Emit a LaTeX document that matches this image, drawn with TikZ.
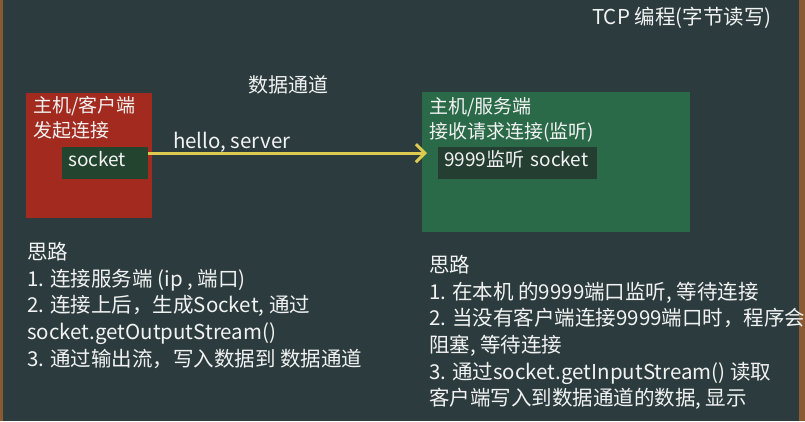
\documentclass[tikz,border=0pt]{standalone}
\usepackage{fontspec}
\setmainfont{Noto Sans CJK SC}
\usetikzlibrary{arrows.meta,positioning}

\definecolor{board}{HTML}{2C3C3E}
\definecolor{frame}{HTML}{8A5A32}
\definecolor{clientred}{HTML}{A22A1E}
\definecolor{servergreen}{HTML}{2B6A48}
\definecolor{sockgreen}{HTML}{23452F}
\definecolor{listengreen}{HTML}{243F31}
\definecolor{chalk}{HTML}{F2F2F2}
\definecolor{wire}{HTML}{DCCB4E}

\tikzset{
  every node/.style={text=chalk,inner sep=0pt},
  txt/.style={font=\fontsize{20.5}{26.7}\selectfont,align=left},
  hostbox/.style={minimum width=#1,anchor=north west},
  sockbox/.style={minimum height=32pt,anchor=north west,align=left,
    inner xsep=6pt,text height=13pt,text depth=6pt,
    font=\fontsize{19}{22}\selectfont},
}

\begin{document}
\begin{tikzpicture}[x=1pt,y=-1pt]
		% board
		\fill[board] (0,0) rectangle (805,421);
		\useasboundingbox (0,0) rectangle (805,421);
		\fill[frame] (0,0) rectangle (3,421);
		\fill[frame] (799,0) rectangle (805,421);

		\node[txt,anchor=west] (title) at (592,18) {TCP 编程(字节读写)};
		\node[txt,font=\fontsize{20}{24}\selectfont] (chan) at (288,85) {数据通道};

		% client
		\node[hostbox=126pt,minimum height=125pt,fill=clientred] (cli) at (26,93) {};
		\node[txt,anchor=north west,font=\fontsize{19}{25}\selectfont] (clitxt) at (33,96) {主机/客户端\\发起连接};
		\node[sockbox,fill=sockgreen,text width=74pt] (csock) at (62,147) {socket};

		% server
		\node[hostbox=268pt,minimum height=140pt,fill=servergreen] (srv) at (422,92) {};
		\node[txt,anchor=north west,font=\fontsize{19}{25}\selectfont] (srvtxt) at (429,97) {主机/服务端\\接收请求连接(监听)};
		\node[sockbox,fill=listengreen,text width=147pt] (ssock) at (438,147) {9999监听 socket};

		% data channel
		\draw[wire,line width=3pt,-{Straight Barb[length=9pt,width=18pt]}]
			([yshift=10pt]csock.east) -- ([yshift=10pt,xshift=5pt]csock.east -| srv.west)
			node[txt,pos=0.083,anchor=base west,yshift=5pt] (msg) {hello, server};

		% steps
		\node[txt,anchor=north west] (cliplan) at (27,242) {思路\\
			1. 连接服务端 (ip , 端口)\\
			2. 连接上后，生成Socket, 通过\\
			socket.getOutputStream()\\
			3. 通过输出流，写入数据到 数据通道};
		\node[txt,anchor=north west] (srvplan) at (429,255) {思路\\
			1. 在本机 的9999端口监听, 等待连接\\
			2. 当没有客户端连接9999端口时，程序会\\
			阻塞, 等待连接\\
			3. 通过socket.getInputStream() 读取\\
			客户端写入到数据通道的数据, 显示};
	\end{tikzpicture}
\end{document}
